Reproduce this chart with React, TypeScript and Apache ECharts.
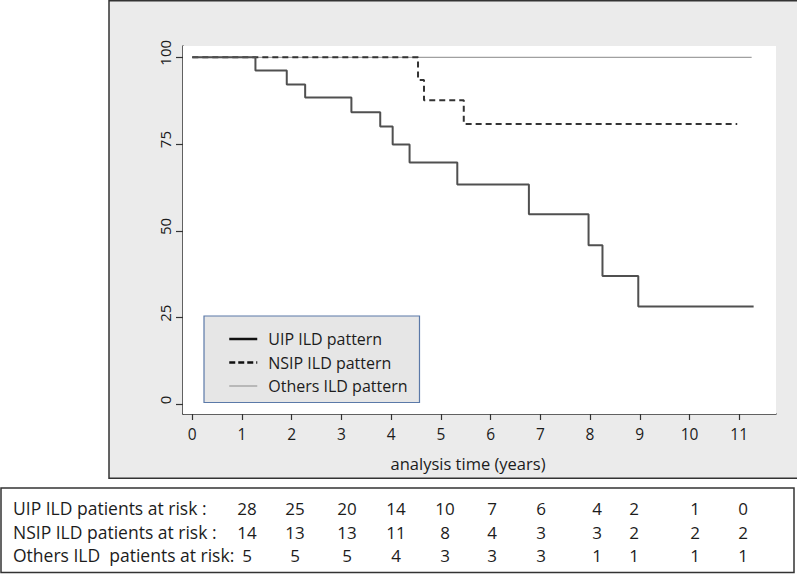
import React, { useEffect, useRef } from "react";
import * as echarts from "echarts";

// ---------- data ----------
const xTicks = [0, 1, 2, 3, 4, 5, 6, 7, 8, 9, 10, 11];
const yTicks = [0, 25, 50, 75, 100];

const seriesNames = ["UIP ILD pattern", "NSIP ILD pattern", "Others ILD pattern"];

const uipTimes = [0, 1.27, 1.9, 2.27, 3.2, 3.78, 4.03, 4.37, 5.33, 6.77, 7.97, 8.25, 8.97, 11.29];
const uipSurv = [100, 96.2, 92.2, 88.4, 84.2, 80.1, 74.9, 69.7, 63.4, 54.8, 45.9, 37.0, 28.2, 28.2];

const nsipTimes = [0, 4.54, 4.66, 5.46, 10.96];
const nsipSurv = [100, 93.5, 87.6, 80.8, 80.8];

const othersTimes = [0, 11.25];
const othersSurv = [100, 100];

const xAxisTitle = "analysis time (years)";

const riskLabels = [
  "UIP ILD patients at risk :",
  "NSIP ILD patients at risk :",
  "Others ILD  patients at risk:",
];
const uipAtRisk = [28, 25, 20, 14, 10, 7, 6, 4, 2, 1, 0];
const nsipAtRisk = [14, 13, 13, 11, 8, 4, 3, 3, 2, 2, 2];
const othersAtRisk = [5, 5, 5, 4, 3, 3, 3, 1, 1, 1, 1];

// ---------- layout (pixels) ----------
const W = 797;
const H = 574;
const riskColX = [247, 295, 347, 396, 445, 492, 541, 597, 634, 695, 743];
const riskRowY = [508, 532, 555];
const FONT = "'Open Sans', 'Liberation Sans', Arial, sans-serif";
const TXT = "#1c1c1c";

function zip(xs: number[], ys: number[]) {
  return xs.map((x, i) => [x, ys[i]]);
}

export default function App() {
  const ref = useRef<HTMLDivElement>(null);

  useEffect(() => {
    if (!ref.current) return;
    const chart = echarts.init(ref.current, undefined, { renderer: "svg", width: W, height: H });

    const riskRows = [uipAtRisk, nsipAtRisk, othersAtRisk];
    const tableTexts: any[] = [];
    riskLabels.forEach((lab, r) => {
      tableTexts.push({
        type: "text",
        x: 13,
        y: riskRowY[r],
        z: 20,
        style: { text: lab, fontSize: 17.5, fontFamily: FONT, fill: TXT, textAlign: "left", textVerticalAlign: "middle" },
      });
      riskRows[r].forEach((v, c) => {
        tableTexts.push({
          type: "text",
          x: riskColX[c],
          y: riskRowY[r],
          z: 20,
          style: { text: String(v), fontSize: 17, fontFamily: FONT, fill: TXT, textAlign: "center", textVerticalAlign: "middle" },
        });
      });
    });

    const baseGraphics: any[] = [
      {
        type: "rect",
        z: -10,
        shape: { x: 109, y: 0.75, width: 690, height: 477.5 },
        style: { fill: "#ebebeb", stroke: "#333", lineWidth: 1.5 },
      },
      {
        type: "rect",
        z: 8,
        shape: { x: 204, y: 316, width: 215.5, height: 86.5 },
        style: { fill: "#e6e6e6", stroke: "#5b79a8", lineWidth: 1.2 },
      },
      {
        type: "text",
        x: 468,
        y: 463,
        z: 20,
        style: { text: xAxisTitle, fontSize: 16.5, fontFamily: FONT, fill: TXT, textAlign: "center", textVerticalAlign: "middle" },
      },
      {
        type: "rect",
        z: -10,
        shape: { x: 1, y: 488, width: 793, height: 84.5 },
        style: { fill: "#ffffff", stroke: "#333", lineWidth: 1.5 },
      },
      ...tableTexts,
    ];

    const option: any = {
      animation: false,
      grid: {
        left: 183,
        top: 46,
        right: W - 776,
        bottom: H - 414,
        show: true,
        backgroundColor: "#ffffff",
        borderWidth: 0,
        z: 1,
      },
      xAxis: {
        type: "value",
        min: -0.187,
        max: 11.74,
        axisLine: { show: true, onZero: false, lineStyle: { color: "#333", width: 1.5 } },
        axisTick: { show: true, customValues: xTicks, length: 6, lineStyle: { color: "#333", width: 1.2 } },
        axisLabel: { customValues: xTicks, fontSize: 15.5, fontFamily: FONT, color: TXT, margin: 12 },
        splitLine: { show: false },
      },
      yAxis: {
        type: "value",
        min: -2.74,
        max: 103.26,
        axisLine: { show: true, onZero: false, lineStyle: { color: "#333", width: 1.5 } },
        axisTick: { show: true, customValues: yTicks, length: 7, lineStyle: { color: "#333", width: 1.2 } },
        axisLabel: { show: false },
        splitLine: { show: true, lineStyle: { color: "#ededed", width: 1 } },
      },
      legend: {
        orient: "vertical",
        left: 228,
        top: 331,
        padding: 0,
        itemWidth: 28,
        itemHeight: 14,
        itemGap: 7.5,
        z: 10,
        itemStyle: { opacity: 0 },
        textStyle: { fontSize: 16, lineHeight: 14, fontFamily: FONT, color: TXT, padding: [0, 0, 0, 6] },
        data: [
          { name: seriesNames[0], itemStyle: { opacity: 0 }, lineStyle: { color: "#111", width: 2.5, type: "solid" } },
          { name: seriesNames[1], itemStyle: { opacity: 0 }, lineStyle: { color: "#111", width: 2.5, type: [6, 3] } },
          { name: seriesNames[2], itemStyle: { opacity: 0 }, lineStyle: { color: "#999", width: 1.2, type: "solid" } },
        ],
      },
      series: [
        {
          name: seriesNames[2],
          type: "line",
          step: "end",
          symbol: "none",
          z: 3,
          data: zip(othersTimes, othersSurv),
          lineStyle: { color: "#a0a0a0", width: 1.2 },
          itemStyle: { color: "#a0a0a0" },
        },
        {
          name: seriesNames[1],
          type: "line",
          step: "end",
          symbol: "none",
          z: 4,
          data: zip(nsipTimes, nsipSurv),
          lineStyle: { color: "#333", width: 2, type: [6, 4] },
          itemStyle: { color: "#333" },
        },
        {
          name: seriesNames[0],
          type: "line",
          step: "end",
          symbol: "none",
          z: 5,
          data: zip(uipTimes, uipSurv),
          lineStyle: { color: "#505050", width: 2 },
          itemStyle: { color: "#505050" },
        },
      ],
      graphic: baseGraphics,
    };

    chart.setOption(option);

    // rotated y-axis tick labels placed through the axis scale
    const yLabelGraphics = yTicks.map((v) => {
      const py = chart.convertToPixel({ yAxisIndex: 0 }, v) as number;
      return {
        type: "text",
        x: 164.5,
        y: py - 4.5,
        rotation: Math.PI / 2,
        z: 20,
        style: { text: String(v), fontSize: 15, fontFamily: FONT, fill: TXT, textAlign: "center", textVerticalAlign: "middle" },
      };
    });
    chart.setOption({ graphic: [...baseGraphics, ...yLabelGraphics] }, { replaceMerge: ["graphic"] } as any);

    return () => chart.dispose();
  }, []);

  return (
    <div
      ref={ref}
      style={{ position: "fixed", left: 0, top: 0, width: W, height: H, background: "#ffffff" }}
    />
  );
}
